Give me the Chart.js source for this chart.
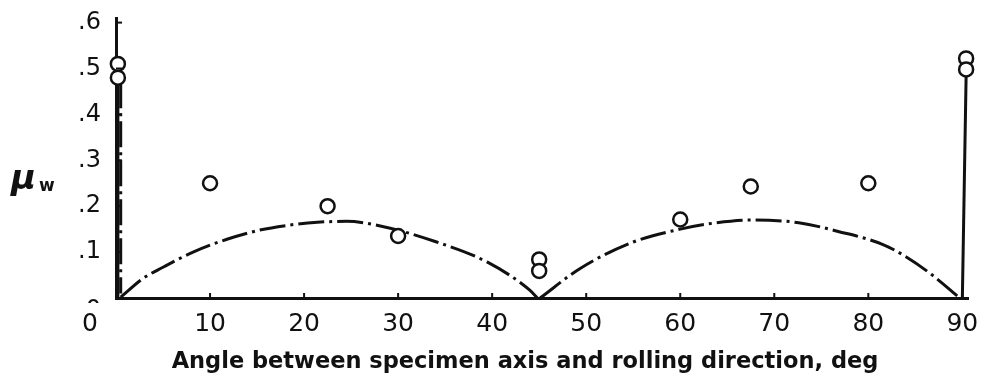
<!DOCTYPE html>
<html>
<head>
<meta charset="utf-8">
<script src="https://cdn.jsdelivr.net/npm/chart.js@4.4.1/dist/chart.umd.min.js"></script>
<style>
  html, body { margin: 0; padding: 0; background: #fff; }
  canvas { display: block; }
</style>
</head>
<body>
<canvas id="muChart" width="991" height="381"></canvas>
<script>
// axis ticks
const angleTicks = [0, 10, 20, 30, 40, 50, 60, 70, 80, 90]
const muTicks = [0, 0.1, 0.2, 0.3, 0.4, 0.5, 0.6]

// measured values (open circles)
const measuredAngle = [0.2, 0.2, 10, 22.5, 30, 45, 45, 60, 67.5, 80, 90.4, 90.4]
const measuredMu    = [0.51, 0.48, 0.25, 0.20, 0.135, 0.084, 0.059, 0.171, 0.243, 0.25, 0.522, 0.498]

// predicted curve, 0-45 deg arch
const leftArchAngle = [0.5, 2.9, 5.0, 8.2, 11.8, 15.3, 18.5, 21.4, 24.5, 28.1, 34.1, 39.5, 44.0, 44.8]
const leftArchMu    = [0.002, 0.043, 0.067, 0.10, 0.128, 0.148, 0.159, 0.165, 0.167, 0.157, 0.122, 0.078, 0.017, 0]

// predicted curve, 45-90 deg arch
const rightArchAngle = [45.1, 49.4, 55.0, 60.0, 63.5, 67.8, 72.6, 76.8, 81.5, 84.0, 86.8, 89.6]
const rightArchMu    = [0, 0.065, 0.122, 0.15, 0.163, 0.170, 0.164, 0.145, 0.117, 0.090, 0.050, 0.002]

// steep rises at the ends
const leftRiseAngle  = [0.5, 0.5]
const leftRiseMu     = [0.47, 0.01]
const leftWallAngle  = [0.2, 0.2]
const leftWallMu     = [0, 0.47]
const rightWallAngle = [90, 90.4]
const rightWallMu    = [0, 0.485]

const ink = "#111"
const pts = (xs, ys) => xs.map((x, i) => ({ x, y: ys[i] }))

const curve = (xs, ys, extra) => Object.assign({
  data: pts(xs, ys),
  showLine: true,
  pointRadius: 0,
  borderColor: ink,
  borderWidth: 3,
  borderDash: [26, 5, 3, 5],
  cubicInterpolationMode: "monotone",
  clip: false,
  order: 2,
}, extra)

const axisText = {
  id: "axisText",
  afterDraw(chart) {
    const { ctx, scales: { x, y } } = chart
    ctx.save()
    ctx.strokeStyle = ink
    ctx.fillStyle = ink
    ctx.lineWidth = 2

    // inward tick marks
    angleTicks.forEach(v => {
      if (v === 0) return
      const px = x.getPixelForValue(v)
      ctx.beginPath()
      ctx.moveTo(px, y.bottom)
      ctx.lineTo(px, y.bottom - 5)
      ctx.stroke()
    })
    muTicks.forEach(v => {
      if (v === 0) return
      const py = y.getPixelForValue(v)
      ctx.beginPath()
      ctx.moveTo(x.left, py)
      ctx.lineTo(x.left + 6, py)
      ctx.stroke()
    })

    // x tick labels
    ctx.font = "25px 'DejaVu Sans'"
    ctx.textAlign = "center"
    ctx.textBaseline = "middle"
    angleTicks.forEach(v => {
      const px = x.getPixelForValue(v) + (v === 0 ? -26 : 0)
      ctx.fillText(String(v), px, 324)
    })

    // y tick labels (".1" style)
    ctx.font = "24px 'DejaVu Sans'"
    ctx.textAlign = "right"
    muTicks.forEach(v => {
      const py = y.getPixelForValue(v)
      if (v === 0) {
        ctx.save()
        ctx.beginPath()
        ctx.rect(0, 0, x.left, y.bottom + 5)
        ctx.clip()
        ctx.fillText("0", 101, py + 13)
        ctx.restore()
        return
      }
      ctx.fillText(v.toFixed(1).replace(/^0/, ""), 101, py)
    })

    // y title
    ctx.textAlign = "left"
    ctx.textBaseline = "alphabetic"
    ctx.font = "italic bold 34px 'DejaVu Sans'"
    ctx.fillText("\u03bc", 11, 189)
    ctx.font = "bold 17px 'DejaVu Sans'"
    ctx.fillText("w", 39, 191)

    // x title
    ctx.font = "bold 22.5px 'DejaVu Sans'"
    ctx.textAlign = "center"
    ctx.textBaseline = "middle"
    ctx.fillText("Angle between specimen axis and rolling direction, deg", 525, 362)
    ctx.restore()
  }
}

new Chart(document.getElementById("muChart"), {
  type: "scatter",
  data: {
    datasets: [
      {
        data: pts(measuredAngle, measuredMu),
        pointRadius: 7,
        pointBorderWidth: 2.5,
        pointBackgroundColor: "#fff",
        pointBorderColor: ink,
        clip: false,
        order: 0,
      },
      curve(leftArchAngle, leftArchMu),
      curve(rightArchAngle, rightArchMu),
      curve(leftRiseAngle, leftRiseMu, { cubicInterpolationMode: "default" }),
      curve(leftWallAngle, leftWallMu, { borderDash: [], cubicInterpolationMode: "default" }),
      curve(rightWallAngle, rightWallMu, { borderDash: [], cubicInterpolationMode: "default" }),
    ]
  },
  options: {
    responsive: false,
    animation: false,
    layout: { padding: { top: 18, right: 23, left: 0, bottom: 0 } },
    plugins: {
      legend: { display: false },
      tooltip: { enabled: false }
    },
    scales: {
      x: {
        type: "linear",
        min: 0,
        max: 90.6,
        ticks: { display: false },
        grid: { display: true, drawOnChartArea: false, drawTicks: false },
        border: { color: ink, width: 3 },
        afterFit: s => { s.height = 83 }
      },
      y: {
        type: "linear",
        min: 0,
        max: 0.61,
        ticks: { display: false },
        grid: { display: true, drawOnChartArea: false, drawTicks: false },
        border: { color: ink, width: 3 },
        afterFit: s => { s.width = 116 }
      }
    }
  },
  plugins: [axisText]
})
</script>
</body>
</html>
